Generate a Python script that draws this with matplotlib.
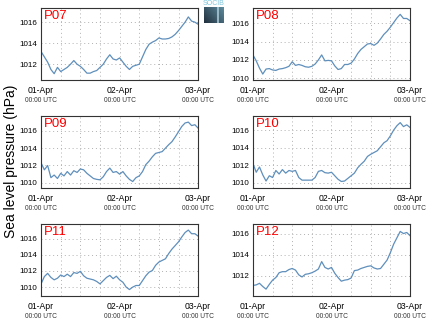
import numpy as np
import matplotlib
matplotlib.use("Agg")
import matplotlib.pyplot as plt
import matplotlib.dates as mdates
import matplotlib.transforms as mtransforms

plt.rcParams['font.family'] = ['Liberation Sans', 'DejaVu Sans']

# hourly sea level pressure (hPa), 01-Apr 00:00 to 03-Apr 00:00 UTC
times = np.arange(np.datetime64('2015-04-01T00'), np.datetime64('2015-04-03T01'),
                  np.timedelta64(1, 'h'))

p07 = [1013.2, 1012.7, 1012.2, 1011.5, 1011.1, 1011.7, 1011.3, 1011.5, 1011.7, 1012.0,
       1012.35, 1012.0, 1011.8, 1011.5, 1011.15, 1011.15, 1011.3, 1011.4, 1011.7, 1012.0,
       1012.5, 1012.9, 1012.5, 1012.4, 1012.6, 1012.2, 1011.8, 1011.5, 1011.8, 1011.9,
       1012.0, 1012.7, 1013.4, 1013.9, 1014.1, 1014.25, 1014.5, 1014.4, 1014.4, 1014.45,
       1014.6, 1014.85, 1015.2, 1015.6, 1016.0, 1016.5, 1016.1, 1016.0, 1015.8]
p08 = [1012.55, 1011.9, 1011.1, 1010.45, 1011.0, 1011.05, 1010.9, 1010.85, 1011.0, 1011.05,
       1011.15, 1011.3, 1011.8, 1011.4, 1011.5, 1011.4, 1011.25, 1011.2, 1011.3, 1011.55,
       1012.0, 1012.55, 1011.9, 1011.95, 1011.9, 1011.35, 1010.95, 1011.05, 1011.5, 1011.5,
       1011.65, 1012.1, 1012.7, 1013.15, 1013.45, 1013.75, 1013.8, 1013.6, 1013.85, 1014.3,
       1014.8, 1015.15, 1015.6, 1016.1, 1016.6, 1017.0, 1016.55, 1016.55, 1016.3]
p09 = [1012.3, 1011.5, 1012.0, 1010.6, 1010.9, 1010.5, 1011.1, 1010.8, 1011.3, 1010.9,
       1011.4, 1011.2, 1011.6, 1011.5, 1011.1, 1010.8, 1010.5, 1010.4, 1010.35, 1010.7,
       1011.3, 1011.7, 1011.2, 1011.3, 1011.0, 1011.3, 1010.8, 1010.4, 1010.15, 1010.6,
       1010.8, 1011.3, 1012.1, 1012.5, 1013.0, 1013.4, 1013.5, 1013.6, 1014.0, 1014.4,
       1014.75, 1015.3, 1015.9, 1016.5, 1016.9, 1017.0, 1016.6, 1016.7, 1016.3]
p10 = [1012.2, 1011.2, 1011.8, 1010.9, 1010.2, 1010.8, 1010.6, 1011.4, 1011.0, 1011.5,
       1011.1, 1011.4, 1011.3, 1011.4, 1010.6, 1010.3, 1010.3, 1010.3, 1010.3, 1010.6,
       1011.3, 1011.4, 1011.15, 1011.1, 1011.2, 1010.8, 1010.4, 1010.15, 1010.2, 1010.5,
       1010.8, 1011.1, 1011.7, 1012.1, 1012.45, 1013.0, 1013.25, 1013.45, 1013.65, 1014.1,
       1014.55, 1014.8, 1015.35, 1016.0, 1016.5, 1016.85, 1016.4, 1016.6, 1016.3]
p11 = [1010.4, 1011.3, 1011.7, 1011.2, 1010.9, 1011.1, 1011.5, 1011.3, 1011.6, 1011.3,
       1011.8, 1011.7, 1011.95, 1011.4, 1011.1, 1011.0, 1010.9, 1010.7, 1010.4, 1010.8,
       1011.2, 1011.45, 1011.05, 1011.35, 1010.9, 1010.6, 1010.0, 1009.7, 1010.0, 1010.2,
       1010.2, 1010.8, 1011.4, 1011.85, 1012.05, 1012.7, 1013.1, 1013.3, 1013.5, 1014.15,
       1014.7, 1015.15, 1015.6, 1016.2, 1016.75, 1017.05, 1016.6, 1016.6, 1016.3]
p12 = [1011.1, 1011.15, 1011.3, 1011.0, 1010.75, 1011.2, 1011.6, 1011.85, 1012.3, 1012.4,
       1012.4, 1012.6, 1012.7, 1012.55, 1012.1, 1011.9, 1012.15, 1012.2, 1012.3, 1012.45,
       1012.65, 1013.35, 1012.8, 1012.65, 1012.8, 1012.25, 1011.85, 1011.5, 1011.6, 1011.65,
       1011.8, 1012.5, 1012.55, 1012.7, 1012.8, 1012.9, 1012.95, 1012.75, 1012.65, 1012.7,
       1013.1, 1013.5, 1014.2, 1015.0, 1015.6, 1016.2, 1016.0, 1016.1, 1015.8]

stations = ['P07', 'P08', 'P09', 'P10', 'P11', 'P12']
series = [p07, p08, p09, p10, p11, p12]
ylims = [(1010.5, 1017.35), (1009.8, 1017.7), (1009.4, 1017.7),
         (1009.4, 1017.6), (1008.9, 1017.8), (1010.1, 1016.9)]

# axes boxes [left, bottom, width, height] in figure fraction
lefts = [0.096, 0.591]
bottoms = [0.7516, 0.416, 0.0807]
w, h = 0.367, 0.2236

fig = plt.figure(figsize=(4.28, 3.22), dpi=100)

for i, (name, vals, yl) in enumerate(zip(stations, series, ylims)):
    ax = fig.add_axes([lefts[i % 2], bottoms[i // 2], w, h])
    ax.plot(times, vals, color='#5f8fbb', lw=0.9)
    ax.set_xlim(times[0], times[-1])
    ax.set_ylim(*yl)
    ax.yaxis.set_major_locator(plt.MultipleLocator(2))
    ax.yaxis.set_major_formatter(plt.FormatStrFormatter('%d'))
    ax.xaxis.set_major_locator(mdates.DayLocator())
    ax.xaxis.set_major_formatter(mdates.DateFormatter('%d-%b'))
    ax.xaxis.set_minor_locator(mdates.HourLocator(byhour=[6, 12, 18]))
    ax.grid(True, which='both', ls=(0, (1, 3)), lw=0.7, color='#b0b0b0')
    ax.tick_params(which='both', length=0)
    ax.tick_params(axis='y', labelsize=5.8, pad=3)
    ax.tick_params(axis='x', labelsize=6.2, pad=4)
    for sp in ax.spines.values():
        sp.set_color('#333333')
        sp.set_linewidth(0.8)
    ax.text(0.02, 0.97, name, transform=ax.transAxes, color='red',
            fontsize=9.5, ha='left', va='top')
    # second line of the date labels
    trans = mtransforms.blended_transform_factory(ax.transData, ax.transAxes)
    for d in ['2015-04-01T00', '2015-04-02T00', '2015-04-03T00']:
        ax.text(mdates.date2num(np.datetime64(d)), -0.235, '00:00 UTC',
                transform=trans, fontsize=4.8, ha='center', va='top', color='#333333')

fig.text(0.025, 0.5, 'Sea level pressure (hPa)', rotation=90, fontsize=10,
         ha='center', va='center')

# small logo box between the top panels
logo = fig.add_axes([204 / 428, 1 - 23 / 322, 20 / 428, 16 / 322])
grad = np.linspace(0, 1, 32)[None, :] * 0.6 + np.linspace(0, 1, 32)[:, None] * 0.4
logo.imshow(grad, cmap=matplotlib.colors.LinearSegmentedColormap.from_list(
    'lg', ['#22313f', '#5c8a9c']), aspect='auto', origin='lower')
logo.axvline(22, color='#a8c8d4', lw=1.2)
logo.axis('off')
fig.text(214 / 428, 1 - 3.5 / 322, 'SOCIB', fontsize=5, color='#7fc6dc',
         ha='center', va='center')

fig.savefig('out.png', dpi=100)
